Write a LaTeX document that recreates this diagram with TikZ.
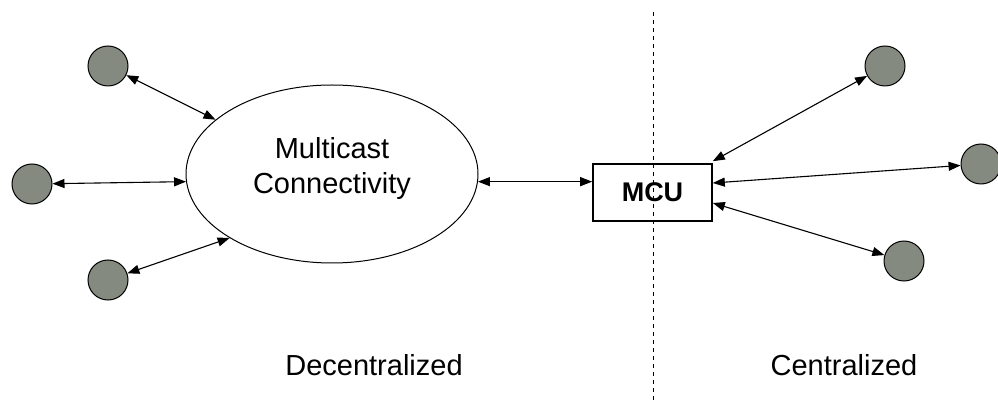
\documentclass[tikz,border=0pt]{standalone}
\usepackage{fontspec}
\setmainfont{Liberation Sans}
\usetikzlibrary{arrows.meta,shapes.geometric}
\definecolor{hostgray}{RGB}{133,138,128}
\tikzset{
  host/.style={circle,draw=black,line width=1pt,fill=hostgray,minimum size=40pt,inner sep=0pt},
  link/.style={line width=1.1pt,{Triangle[length=12pt,width=9pt]}-{Triangle[length=12pt,width=9pt]}},
  caption/.style={font=\fontsize{29}{35}\selectfont,anchor=base,inner sep=0pt},
}
\begin{document}
\begin{tikzpicture}[x=1pt,y=-1pt]
  \useasboundingbox (0,0) rectangle (998,403);
  % divider between the two architectures
  \draw[line width=1pt,dash pattern=on 4pt off 4pt] (653,12) -- (653,403);

  % decentralized side
  \node[ellipse,draw,line width=1pt,minimum width=292pt,minimum height=178pt,inner sep=0pt] (e) at (332,174) {};
  \node[align=center,font=\fontsize{29}{35}\selectfont,inner sep=0pt] (etext) at (332,169) {Multicast\\Connectivity};
  \node[host] (l1) at (108,66) {};
  \node[host] (l2) at (32,184) {};
  \node[host] (l3) at (108,280) {};
  \draw[link] (l1) -- (e.155);
  \draw[link] (l2) -- (e.183.5);
  \draw[link] (l3) -- (e.212);

  % centralized side
  \node[draw,line width=1.6pt,minimum width=119pt,minimum height=57pt,inner sep=0pt,
        font=\bfseries\fontsize{27}{32}\selectfont] (mcu) at (652.5,192.5) {MCU};
  \coordinate (mcuin) at (e.-3.5 -| mcu.west);
  \draw[link] (e.-3.5) -- (mcuin);
  \node[host] (r1) at (885,66) {};
  \node[host] (r2) at (981,164) {};
  \node[host] (r3) at (904,261) {};
  \coordinate (m1) at ([yshift=2pt]mcu.north east);
  \coordinate (m2) at ([yshift=9.5pt]mcu.east);
  \coordinate (m3) at ([yshift=-10.5pt]mcu.east);
  \draw[link] (m1) -- (r1);
  \draw[link] (m2) -- (r2);
  \draw[link] (m3) -- (r3);

  % captions
  \node[caption] (dec) at (374,375) {Decentralized};
  \node[caption] (cen) at (844,375) {Centralized};
\end{tikzpicture}
\end{document}
